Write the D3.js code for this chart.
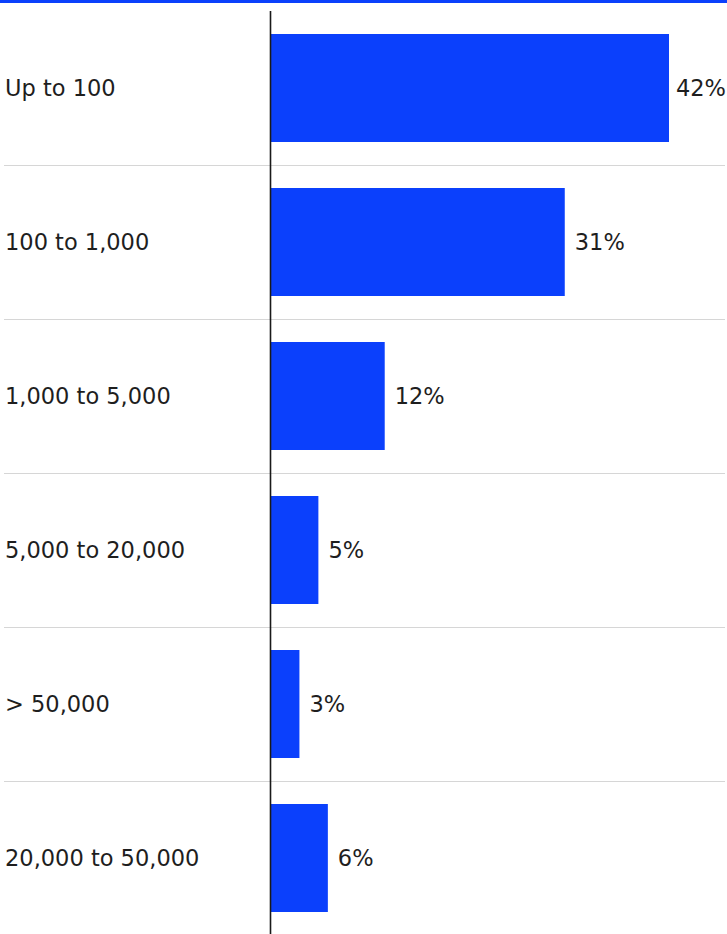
<!DOCTYPE html>
<html>
<head>
<meta charset="utf-8">
<script src="https://cdn.jsdelivr.net/npm/d3@7"></script>
<style>
  html, body { margin: 0; padding: 0; background: #fff; }
  svg { display: block; }
  text { font-family: "DejaVu Sans", sans-serif; fill: #1e1e1e; }
</style>
</head>
<body>
<div id="chart"></div>
<script>
// Share of respondents by size bracket
const categories = ["Up to 100", "100 to 1,000", "1,000 to 5,000", "5,000 to 20,000", "> 50,000", "20,000 to 50,000"];
const shares = [42, 31, 12, 5, 3, 6];
const valueLabels = ["42%", "31%", "12%", "5%", "3%", "6%"];

const width = 727, height = 934;
const blue = "#0b40fc";

const svg = d3.select("#chart").append("svg")
  .attr("width", width)
  .attr("height", height);

const y = d3.scaleBand()
  .domain(categories)
  .range([11, 935])
  .paddingInner(0.2987)
  .paddingOuter(0.2987 / 2);

const x = d3.scaleLinear()
  .domain([0, d3.max(shares)])
  .range([271, 669]);

// top rule
svg.append("rect")
  .attr("x", 0).attr("y", 0)
  .attr("width", width).attr("height", 3)
  .attr("fill", blue);

// row separators
const step = y.step();
svg.append("g")
  .selectAll("line")
  .data(categories.slice(1))
  .join("line")
  .attr("x1", 4).attr("x2", 725)
  .attr("y1", d => Math.round(y(d) - step * y.paddingInner() / 2) + 0.5)
  .attr("y2", d => Math.round(y(d) - step * y.paddingInner() / 2) + 0.5)
  .attr("stroke", "#d6d6d6")
  .attr("stroke-width", 1);

// bars
svg.append("g")
  .selectAll("rect")
  .data(categories)
  .join("rect")
  .attr("x", x(0))
  .attr("y", d => y(d))
  .attr("width", (d, i) => x(shares[i]) - x(0))
  .attr("height", y.bandwidth())
  .attr("fill", blue);

// category labels
svg.append("g")
  .selectAll("text")
  .data(categories)
  .join("text")
  .attr("x", 5)
  .attr("y", d => y(d) + y.bandwidth() / 2)
  .attr("dy", "0.36em")
  .attr("font-size", 22.5)
  .text(d => d);

// value labels, kept inside the right edge
svg.append("g")
  .selectAll("text")
  .data(categories)
  .join("text")
  .attr("y", d => y(d) + y.bandwidth() / 2)
  .attr("dy", "0.36em")
  .attr("font-size", 22.5)
  .text((d, i) => valueLabels[i])
  .attr("x", function (d, i) {
    const w = this.getComputedTextLength();
    return Math.min(x(shares[i]) + 10, width - 1 - w);
  });

// vertical axis line
svg.append("line")
  .attr("x1", 270.5).attr("x2", 270.5)
  .attr("y1", 11).attr("y2", height)
  .attr("stroke", "#1a1a1a")
  .attr("stroke-width", 1.6);
</script>
</body>
</html>
